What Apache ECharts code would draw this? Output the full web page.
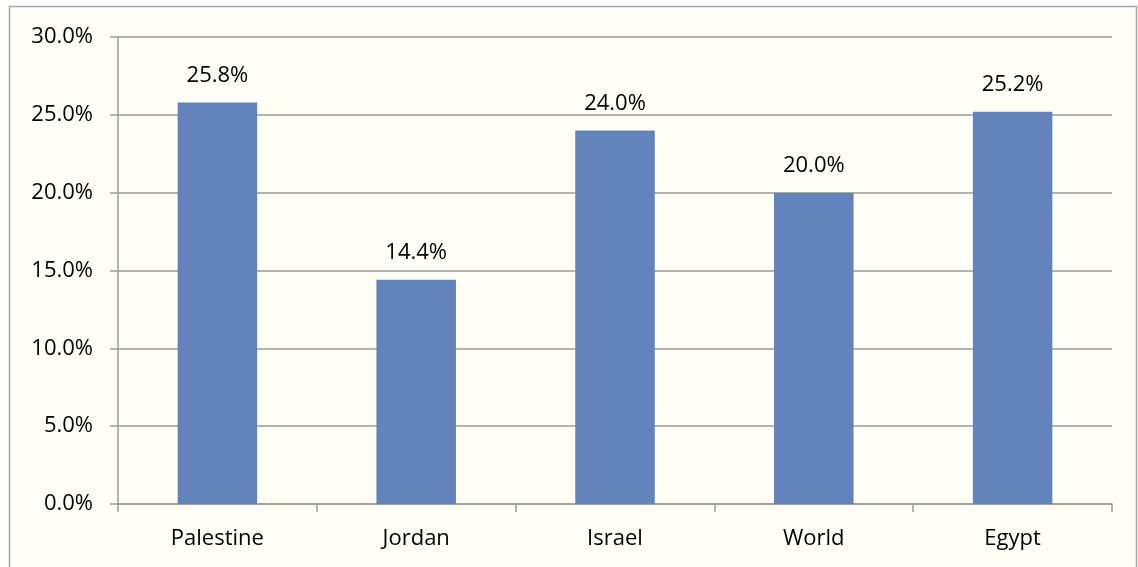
<!DOCTYPE html>
<html><head><meta charset="utf-8">
<script src="https://cdn.jsdelivr.net/npm/echarts@6/dist/echarts.min.js"></script>
<style>html,body{margin:0;padding:0;background:#fff;}#c{width:1138px;height:567px;}</style>
</head><body><div id="c"></div>
<script>
const categories = ['Palestine', 'Jordan', 'Israel', 'World', 'Egypt'];
const values = [25.8, 14.4, 24.0, 20.0, 25.2];
const yTicks = [0, 5, 10, 15, 20, 25, 30];

const chart = echarts.init(document.getElementById('c'));
const font = 'Open Sans, Liberation Sans, sans-serif';
chart.setOption({
  animation: false,
  backgroundColor: '#fff',
  graphic: [{
    type: 'rect', shape: {x: 9.5, y: 6.5, width: 1127, height: 570},
    style: {fill: '#FFFFF5', stroke: '#A6A6A6', lineWidth: 1.5}, z: -10
  }],
  grid: {left: 118, right: 26, top: 37, bottom: 63, containLabel: false},
  xAxis: {
    type: 'category', data: categories,
    axisLine: {lineStyle: {color: '#9A9A9A', width: 1.5}},
    axisTick: {show: true, length: 8, lineStyle: {color: '#9A9A9A', width: 1.5}},
    axisLabel: {color: '#000', fontSize: 22, fontFamily: font, margin: 24}
  },
  yAxis: {
    type: 'value', min: yTicks[0], max: yTicks[yTicks.length-1], interval: 5,
    axisLine: {show: true, lineStyle: {color: '#9A9A9A', width: 1.5}},
    axisTick: {show: true, length: 8, lineStyle: {color: '#9A9A9A', width: 1.5}},
    splitLine: {lineStyle: {color: '#9A9A9A', width: 1.5}},
    axisLabel: {color: '#000', fontSize: 22, fontFamily: font, margin: 25,
      formatter: v => v.toFixed(1) + '%'}
  },
  series: [{
    type: 'bar', data: values, barWidth: '40%',
    itemStyle: {color: '#6383BD'},
    label: {show: true, position: 'top', distance: 16, color: '#000', fontSize: 22, fontFamily: font,
      formatter: p => p.value.toFixed(1) + '%'}
  }]
});
</script></body></html>
